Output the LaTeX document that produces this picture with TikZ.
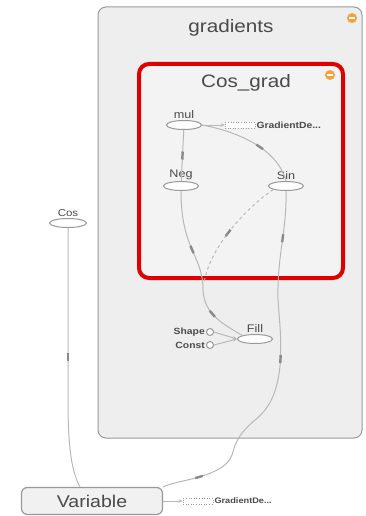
\documentclass[tikz,border=0pt]{standalone}
\usepackage{fontspec}
\setmainfont{Liberation Sans}[FakeStretch=1.15]
\usetikzlibrary{shapes.geometric,arrows.meta}
\definecolor{txtgray}{HTML}{4A4A4A}
\definecolor{boxgray}{HTML}{EEEEEE}
\definecolor{boxline}{HTML}{999999}
\definecolor{edgegray}{HTML}{B8B8B8}
\definecolor{tickgray}{HTML}{8A8A8A}
\definecolor{gradred}{HTML}{E00000}
\definecolor{minusorange}{HTML}{F2A33A}
\tikzset{
  op/.style={draw=boxline, fill=white, ellipse, minimum width=35pt,
    minimum height=9pt, inner sep=0pt, line width=1pt},
  lbl/.style={text=txtgray, font=\fontsize{11}{12}\selectfont, inner sep=1pt},
  small/.style={text=txtgray, font=\fontsize{9}{10}\selectfont\bfseries, inner sep=1pt},
  edge/.style={draw=edgegray, line width=1pt},
  tip/.style={-{Stealth[length=4pt,width=3.5pt]}},
  tick/.style={fill=tickgray, rectangle, minimum width=8pt, minimum height=2.4pt,
    inner sep=0pt, sloped},
  ctrl/.style={draw=boxline, dotted, fill=white, rectangle, minimum width=30pt,
    minimum height=6pt, inner sep=0pt, line width=0.6pt},
  minus/.style={fill=minusorange, circle, minimum size=10pt, inner sep=0pt,
    path picture={\draw[white, line width=1.3pt] ([xshift=-2.8pt]path picture bounding box.center)
      -- ([xshift=2.8pt]path picture bounding box.center);}}
}
\begin{document}
\begin{tikzpicture}[x=1pt,y=-1pt]
  \useasboundingbox (0,0) rectangle (365,516);
  % outer group box
  \draw[draw=boxline, fill=boxgray, rounded corners=8pt, line width=1pt] (98,7) rectangle (362,438);
  \node[text=txtgray, font=\fontsize{18}{20}\selectfont] (gradT) at (231,28) {gradients};
  \node[minus] (gradM) at (352,18) {};
  % inner group box
  \draw[draw=gradred, fill=boxgray!70!white, rounded corners=10pt, line width=4pt] (139,64) rectangle (343,278);
  \node[text=txtgray, font=\fontsize{18}{20}\selectfont] (cosgT) at (246,83) {Cos\_grad};
  \node[minus] (cosgM) at (330,75) {};
  % ops
  \node[op, label={[lbl]above:mul}] (mul) at (184,125) {};
  \node[op, label={[lbl]above:Neg}] (Neg) at (181,186) {};
  \node[op, label={[lbl]above:Sin}] (Sin) at (286,186) {};
  \node[op, label={[lbl]above:Fill}] (Fill) at (255,339) {};
  \node[op, minimum width=37pt, label={[lbl, font=\fontsize{10}{11}\selectfont]above:Cos}] (Cos) at (68,223) {};
  \node[draw=boxline, fill=boxgray!80!white, rounded corners=6pt, line width=1.2pt,
    minimum width=141pt, minimum height=27pt, inner sep=0pt, text=txtgray,
    font=\fontsize{17}{19}\selectfont] (Var) at (92,501) {Variable};
  % constants into Fill
  \node[draw=boxline, fill=white, circle, minimum size=7pt, inner sep=0pt, line width=1pt,
    label={[small]left:Shape}] (Shape) at (210,332) {};
  \node[draw=boxline, fill=white, circle, minimum size=7pt, inner sep=0pt, line width=1pt,
    label={[small]left:Const}] (Const) at (210,345) {};
  % control dependencies
  \node[ctrl] (mulDep) at (240,125) {};
  \node[small, anchor=west] (mulDepT) at (mulDep.east) {GradientDe...};
  \node[ctrl] (varDep) at (198,501) {};
  \node[small, anchor=west, font=\fontsize{8}{9}\selectfont\bfseries] (varDepT) at (varDep.east) {GradientDe...};
  % edges
  \draw[edge] (mul) -- node[tick] {} (Neg);
  \draw[edge] (mul.east) .. controls (240,132) and (278,150) .. node[tick, pos=0.55] {} (Sin.north);
  \draw[edge, tip] (mul.east) -- (mulDep.west);
  \draw[edge] (Neg.south) .. controls (181,250) and (203,255) .. node[tick, pos=0.5] {} (203,290)
    .. controls (204,315) and (225,325) .. node[tick, pos=0.4] {} (Fill.north west);
  \coordinate (merge) at (204,283);
  \draw[edge, dashed] (Sin.south west) .. controls (250,205) and (210,245) .. node[tick, pos=0.55] {} (merge);
  \draw[edge] (Sin.south) .. controls (287,230) and (277,255) .. node[tick, pos=0.45] {} (278,300)
    .. controls (281,340) and (288,395) .. node[tick, pos=0.45] {} (255,420)
    .. controls (240,433) and (236,440) .. (232,455)
    .. controls (224,478) and (175,480) .. node[tick, pos=0.5] {} (Var.north east |- 0,487);
  \foreach \c in {Shape,Const}
    \draw[edge, tip] (\c.east) -- (Fill.west);
  \draw[edge] (Cos.south) -- node[tick, pos=0.75] {} (68,400) .. controls (68,450) and (72,472) .. (80,487);
  \draw[edge, tip] (Var.east) -- (varDep.west);
\end{tikzpicture}
\end{document}
